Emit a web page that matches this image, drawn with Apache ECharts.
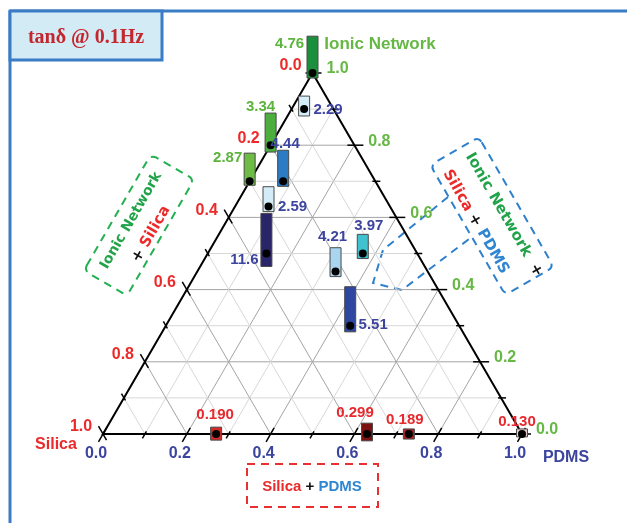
<!DOCTYPE html>
<html>
<head>
<meta charset="utf-8">
<script src="https://cdn.jsdelivr.net/npm/echarts@6/dist/echarts.min.js"></script>
<style>
  html, body { margin: 0; padding: 0; background: #fff; }
  #chart { width: 627px; height: 523px; }
</style>
</head>
<body>
<div id="chart"></div>
<script>
// compositions (fractions)
const ionic  = [1.0, 0.9, 0.8, 0.7, 0.7, 0.63, 0.5, 0.5, 0.45, 0.3, 0, 0, 0, 0];
const pdms   = [0, 0.03, 0, 0, 0.08, 0.08, 0.14, 0.37, 0.33, 0.44, 0.27, 0.63, 0.73, 1.0];
const silica = [0, 0.07, 0.2, 0.3, 0.22, 0.29, 0.36, 0.13, 0.22, 0.26, 0.73, 0.37, 0.27, 0];
const tanDelta = ['4.76', '2.29', '3.34', '2.87', '4.44', '2.59', '11.6', '3.97', '4.21', '5.51',
                  '0.190', '0.299', '0.189', '0.130'];
// bar extent above / below each point (ionic-axis units)
const barAbove = [0.102, 0.036, 0.089, 0.078, 0.086, 0.055, 0.111, 0.053, 0.066, 0.108, 0.019, 0.030, 0.014, 0.014];
const barBelow = [0.014, 0.019, 0.019, 0.011, 0.014, 0.014, 0.036, 0.014, 0.014, 0.017, 0.017, 0.019, 0.014, 0.008];

const pdmsTicks   = ['0.0', '0.2', '0.4', '0.6', '0.8', '1.0'];
const ionicTicks  = ['0.0', '0.2', '0.4', '0.6', '0.8', '1.0'];
const silicaTicks = ['0.0', '0.2', '0.4', '0.6', '0.8', '1.0'];

// styling per bar
const barColors = ['#1b8f3e', '#d6eef8', '#4cae3c', '#6dbd45', '#2b7cc4', '#d4ecf7', '#2a2468',
                   '#3fc1cf', '#a9d5f1', '#2f46a0', '#d42a2a', '#7c1111', '#a82424', '#e6c9c9'];
const labelOffset = [[-23, -29], [24, 1], [-10, -38], [-22, -23], [2, -37], [24, 0], [-22, 6],
                     [6, -28], [-3, -35], [23, -1], [-1, -19], [-12, -21], [-4, -14], [-5, -12]];
const labelColors = ['#5ab53a', '#3d44a0', '#5ab53a', '#5ab53a', '#3d44a0', '#3d44a0', '#3d44a0',
                     '#3d44a0', '#3d44a0', '#3d44a0', '#e8282c', '#e8282c', '#e8282c', '#e8282c'];

const RED = '#ec2a2a', GREEN = '#66b844', BLUE = '#3b449e';
const FONT = '"Liberation Sans", Arial, sans-serif';

// ternary -> cartesian (x along PDMS side, y = ionic)
function tern(p, i) { return [p + i / 2, i]; }

const gridSegs = [];
for (let k = 1; k < 10; k++) {
  const f = k / 10, major = k % 2 === 0 ? 1 : 0;
  gridSegs.push([...tern(0, f), ...tern(1 - f, f), major]);   // ionic const
  gridSegs.push([...tern(f, 0), ...tern(f, 1 - f), major]);   // pdms const
  gridSegs.push([...tern(1 - f, 0), ...tern(0, 1 - f), major]); // silica const
}

const tickData = [];
for (let k = 0; k <= 10; k++) {
  const f = k / 10, major = k % 2 === 0 ? 1 : 0;
  tickData.push([...tern(f, 0), 0.5, 1, major]);
  tickData.push([...tern(1 - f, f), -1, 0, major]);
  tickData.push([...tern(0, 1 - f), 0.5, -1, major]);
}

const points = ionic.map((v, i) => [...tern(pdms[i], v), silica[i]]);

function txt(x, y, text, fill, size) {
  return {
    type: 'text', x: x, y: y,
    style: { text: text, fill: fill, font: 'bold ' + size + 'px ' + FONT,
      align: 'center', verticalAlign: 'middle', textAlign: 'center', textVerticalAlign: 'middle' }
  };
}

function edgeLabels(labels, pos, off, color) {
  return {
    type: 'custom', coordinateSystem: 'cartesian2d', clip: false, silent: true,
    data: labels.map((l, j) => pos(j / 5)),
    renderItem: function (params, api) {
      const p = api.coord([api.value(0), api.value(1)]);
      return txt(p[0] + off[0], p[1] + off[1], labels[params.dataIndex], color, 16);
    }
  };
}

const chart = echarts.init(document.getElementById('chart'));

const dash = [8, 6];
const richStyle = {
  r: { fill: RED, font: 'bold 15px "DejaVu Sans", sans-serif', color: RED },
  k: { fill: '#111', font: 'bold 15px "DejaVu Sans", sans-serif', color: '#111' },
  b: { fill: '#2f86d2', font: 'bold 15px "DejaVu Sans", sans-serif', color: '#2f86d2' },
  g: { fill: '#22a34a', font: 'bold 15px "DejaVu Sans", sans-serif', color: '#22a34a' }
};

const option = {
  animation: false,
  backgroundColor: '#fff',
  grid: { left: 103, top: 73, width: 419, height: 361 },
  xAxis: { type: 'value', min: 0, max: 1, show: false },
  yAxis: { type: 'value', min: 0, max: 1, show: false },
  graphic: [
    { type: 'line', shape: { x1: 10, y1: 11, x2: 627, y2: 11 }, style: { stroke: '#3b7cc6', lineWidth: 3 } },
    { type: 'line', shape: { x1: 10, y1: 11, x2: 10, y2: 523 }, style: { stroke: '#3b7cc6', lineWidth: 3 } },
    { type: 'rect', shape: { x: 10, y: 11, width: 152, height: 49 },
      style: { fill: '#d3ebf4', stroke: '#3b7cc6', lineWidth: 3 } },
    { type: 'text', x: 86, y: 38,
      style: { text: 'tanδ @ 0.1Hz', fill: '#c4262e', font: 'bold 20px "Liberation Serif", serif',
        align: 'center', verticalAlign: 'middle', textAlign: 'center', textVerticalAlign: 'middle' } },
    txt(380, 44, 'Ionic Network', GREEN, 17),
    txt(56, 445, 'Silica', RED, 16),
    txt(566, 458, 'PDMS', BLUE, 16),
    // left box: ionic network + silica
    {
      type: 'group', x: 139, y: 225, rotation: Math.PI / 3,
      children: [
        { type: 'rect', shape: { x: -67, y: -25, width: 134, height: 50, r: 6 },
          style: { fill: 'none', stroke: '#22b050', lineWidth: 2, lineDash: dash } },
        { type: 'text', x: 0, y: -9,
          style: { text: 'Ionic Network', fill: '#22a34a', font: 'bold 14px "DejaVu Sans", sans-serif',
            align: 'center', verticalAlign: 'middle', textAlign: 'center', textVerticalAlign: 'middle' } },
        { type: 'text', x: -2, y: 15,
          style: { text: '{k|+} {r|Silica}', font: 'bold 14px "DejaVu Sans", sans-serif', rich: richStyle,
            align: 'center', verticalAlign: 'middle', textAlign: 'center', textVerticalAlign: 'middle' } }
      ]
    },
    // right box: ionic network + silica + pdms
    {
      type: 'group', x: 492, y: 216, rotation: -Math.PI / 3,
      children: [
        { type: 'rect', shape: { x: -75, y: -28, width: 150, height: 56, r: 6 },
          style: { fill: 'none', stroke: '#2f80cc', lineWidth: 2, lineDash: dash } },
        { type: 'text', x: 5, y: -11,
          style: { text: '{g|Ionic Network}  {k|+}', font: 'bold 15px "DejaVu Sans", sans-serif', rich: richStyle,
            align: 'center', verticalAlign: 'middle', textAlign: 'center', textVerticalAlign: 'middle' } },
        { type: 'text', x: -3, y: 17,
          style: { text: '{r|Silica} {k|+} {b|PDMS}', font: 'bold 15px "DejaVu Sans", sans-serif', rich: richStyle,
            align: 'center', verticalAlign: 'middle', textAlign: 'center', textVerticalAlign: 'middle' } }
      ]
    },
    { type: 'polyline', shape: { points: [[448, 197], [383, 250], [373, 283], [402, 290], [473, 236]] },
      style: { fill: 'none', stroke: '#2f80cc', lineWidth: 2, lineDash: dash } },
    // bottom box: silica + pdms
    { type: 'rect', shape: { x: 247, y: 464, width: 131, height: 43 },
      style: { fill: 'none', stroke: '#e83030', lineWidth: 2, lineDash: dash } },
    { type: 'text', x: 312, y: 487,
      style: { text: '{r|Silica} {k|+} {b|PDMS}', font: 'bold 15px ' + FONT,
        rich: {
          r: { fill: RED, color: RED, font: 'bold 15px ' + FONT },
          k: { fill: '#111', color: '#111', font: 'bold 15px ' + FONT },
          b: { fill: '#2f86d2', color: '#2f86d2', font: 'bold 15px ' + FONT }
        },
        align: 'center', verticalAlign: 'middle', textAlign: 'center', textVerticalAlign: 'middle' } }
  ],
  series: [
    {
      type: 'custom', coordinateSystem: 'cartesian2d', clip: false, silent: true, z: 1,
      data: gridSegs,
      renderItem: function (params, api) {
        const a = api.coord([api.value(0), api.value(1)]);
        const b = api.coord([api.value(2), api.value(3)]);
        return { type: 'line', shape: { x1: a[0], y1: a[1], x2: b[0], y2: b[1] },
          style: { stroke: api.value(4) ? '#a4a4a4' : '#d8d8d8', lineWidth: 1 } };
      }
    },
    {
      type: 'custom', coordinateSystem: 'cartesian2d', clip: false, silent: true, z: 2,
      data: [[...tern(0, 0), ...tern(1, 0), ...tern(0, 1)]],
      renderItem: function (params, api) {
        const pts = [0, 2, 4].map(j => api.coord([api.value(j), api.value(j + 1)]));
        return { type: 'polygon', shape: { points: pts },
          style: { fill: 'none', stroke: '#000', lineWidth: 2 } };
      }
    },
    {
      type: 'custom', coordinateSystem: 'cartesian2d', clip: false, silent: true, z: 3,
      data: tickData,
      renderItem: function (params, api) {
        const p = api.coord([api.value(0), api.value(1)]);
        const q = api.coord([api.value(0) + api.value(2) * 0.1, api.value(1) + api.value(3) * 0.1]);
        let ux = q[0] - p[0], uy = q[1] - p[1];
        const len = Math.hypot(ux, uy); ux /= len; uy /= len;
        const out = api.value(4) ? 9 : 5, inn = api.value(4) ? 7 : 3;
        return { type: 'line',
          shape: { x1: p[0] - ux * out, y1: p[1] - uy * out, x2: p[0] + ux * inn, y2: p[1] + uy * inn },
          style: { stroke: '#000', lineWidth: 1.5 } };
      }
    },
    edgeLabels(pdmsTicks, f => tern(f, 0), [-7, 20], BLUE),
    edgeLabels(ionicTicks, f => tern(1 - f, f), [25, -4], GREEN),
    edgeLabels(silicaTicks, f => tern(0, 1 - f), [-22, -7], RED),
    {
      type: 'custom', coordinateSystem: 'cartesian2d', clip: false, silent: true, z: 5,
      data: points,
      renderItem: function (params, api) {
        const i = params.dataIndex;
        const x = api.value(0), y = api.value(1);
        const base = api.coord([x, y]);
        const top = api.coord([x, y + barAbove[i]]);
        const bot = api.coord([x, y - barBelow[i]]);
        return {
          type: 'group',
          children: [
            { type: 'rect', shape: { x: base[0] - 5.5, y: top[1], width: 11, height: bot[1] - top[1] },
              style: { fill: barColors[i], stroke: '#4a4a4a', lineWidth: 1 } },
            { type: 'circle', shape: { cx: base[0], cy: base[1], r: 4 }, style: { fill: '#000' } },
            txt(base[0] + labelOffset[i][0], base[1] + labelOffset[i][1], tanDelta[i], labelColors[i], 15)
          ]
        };
      }
    }
  ]
};

chart.setOption(option);
</script>
</body>
</html>
